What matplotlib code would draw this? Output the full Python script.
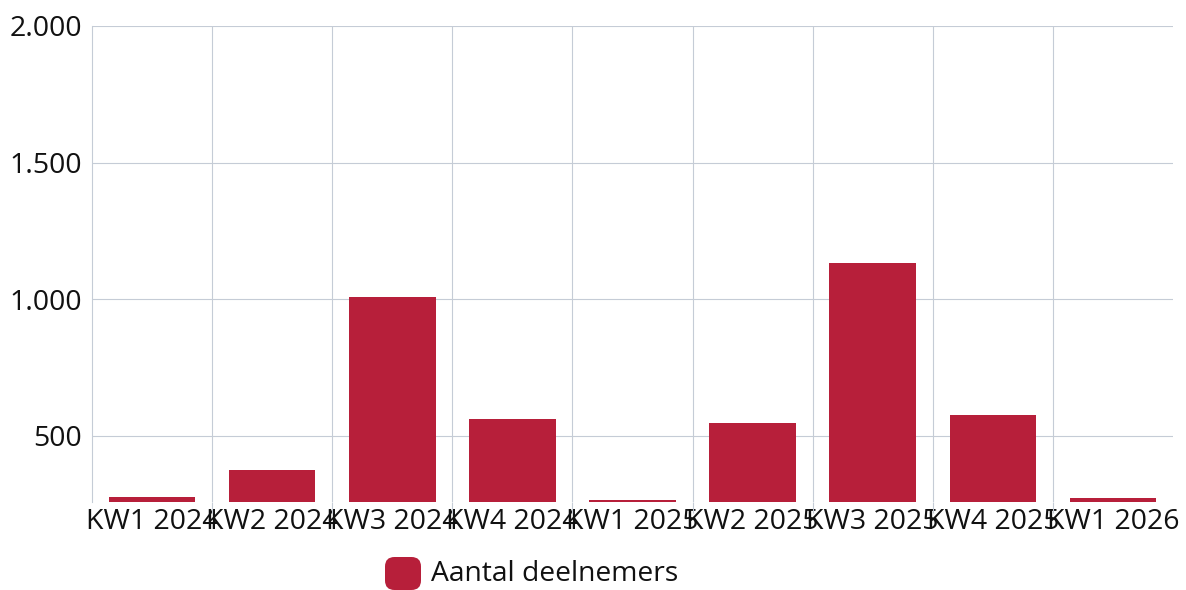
import numpy as np
import matplotlib.pyplot as plt
from matplotlib.patches import FancyBboxPatch

weeks = ['KW1 2024', 'KW2 2024', 'KW3 2024', 'KW4 2024', 'KW1 2025',
         'KW2 2025', 'KW3 2025', 'KW4 2025', 'KW1 2026']
deelnemers = [278, 376, 1007, 561, 265, 548, 1133, 577, 272]
y_ticks = [500, 1000, 1500, 2000]
y_labels = ['500', '1.000', '1.500', '2.000']

bar_color = '#b71f3a'
grid_color = '#c5ccd6'
plt.rcParams['font.family'] = ['Open Sans', 'DejaVu Sans']

fig = plt.figure(figsize=(11.86, 5.9), dpi=100)
ax = fig.add_axes([92 / 1186, 1 - 502 / 590, (1173 - 92) / 1186, (502 - 26) / 590])

x = np.arange(len(weeks))
ax.bar(x, np.array(deelnemers) - 258, bottom=258, width=0.72, color=bar_color, zorder=3)

ax.set_xlim(-0.5, len(weeks) - 0.5)
ax.set_ylim(258, 2000)

ax.set_yticks(y_ticks)
ax.set_yticklabels(y_labels, fontsize=20.5)
ax.tick_params(axis='y', length=0, pad=7, labelcolor='#111111')

ax.set_xticks(x)
ax.set_xticklabels(weeks, fontsize=20.5)
ax.tick_params(axis='x', which='major', length=0, pad=4, labelcolor='#111111')
ax.set_xticks(np.arange(len(weeks) - 1) + 0.5, minor=True)
ax.tick_params(axis='x', which='minor', length=8, color=grid_color, width=0.8)

ax.grid(axis='y', color=grid_color, linewidth=0.8, zorder=0)
ax.grid(axis='x', which='minor', color=grid_color, linewidth=0.8, zorder=0)

for s in ['top', 'right', 'bottom']:
    ax.spines[s].set_visible(False)
ax.spines['left'].set_color(grid_color)
ax.spines['left'].set_linewidth(0.8)

# legend
patch = FancyBboxPatch((385 / 1186, 1 - 590 / 590), 36 / 1186, 33 / 590,
                       boxstyle='round,pad=0,rounding_size=0.008',
                       transform=fig.transFigure, facecolor=bar_color,
                       edgecolor='none', mutation_aspect=1186 / 590)
fig.patches.append(patch)
fig.text(431 / 1186, 1 - 574 / 590, 'Aantal deelnemers', fontsize=20.3,
         va='center', ha='left', color='#111111')

fig.savefig('out.png', dpi=100)
